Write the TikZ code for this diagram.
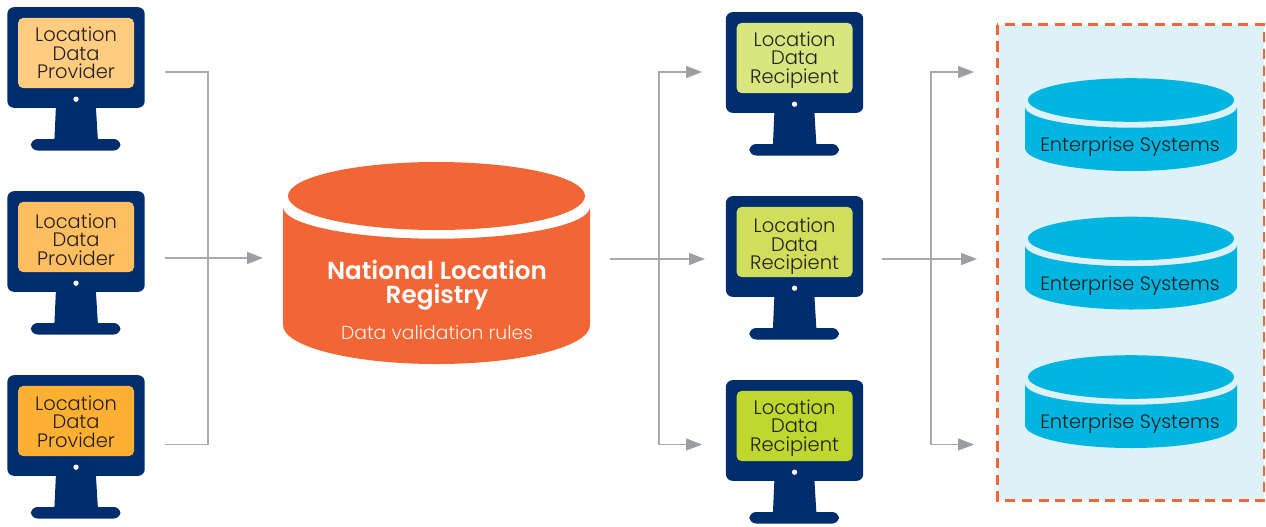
\documentclass[tikz,border=0pt]{standalone}
\usepackage{fontspec}
\setmainfont{Poppins}
\newfontfamily\lightfont{Poppins Light}
\newfontfamily\boldfont{Poppins SemiBold}
\usetikzlibrary{arrows.meta}
\definecolor{navy}{HTML}{002D6E}
\definecolor{regorange}{HTML}{F26535}
\definecolor{entcyan}{HTML}{00B5E0}
\definecolor{panelblue}{HTML}{DDF1F8}
\definecolor{conngray}{HTML}{A9AAAD}
\definecolor{tipgray}{HTML}{9D9EA1}
\definecolor{inkdark}{HTML}{231F20}
\definecolor{provA}{HTML}{FFCC80}
\definecolor{provB}{HTML}{FFBF60}
\definecolor{provC}{HTML}{FFB032}
\definecolor{recA}{HTML}{D9E57F}
\definecolor{recB}{HTML}{CFDF5B}
\definecolor{recC}{HTML}{C0D72E}
\tikzset{
  px/.style={x=0.75pt,y=-0.75pt},
  conn/.style={draw=conngray,line width=1.1pt,line join=miter},
  connarrow/.style={conn,-{Triangle[length=12pt,width=9pt,color=tipgray]}},
  monbody/.style={fill=navy,draw=none,rounded corners=5pt,inner sep=0pt,minimum width=103pt,minimum height=75.5pt},
  monscreen/.style={draw=none,rounded corners=4pt,inner sep=0pt,minimum width=87pt,minimum height=52.8pt},
  montext/.style={font=\lightfont\fontsize{14.6pt}{13.9pt}\selectfont,text=inkdark,align=center,inner sep=0pt},
  enttext/.style={font=\lightfont\fontsize{14.5pt}{16pt}\selectfont,text=inkdark,inner sep=0pt},
}
% name, left x, top y, screen colour, text centre y (relative to top), label
\newcommand{\monitor}[6]{%
  \begin{scope}[shift={(#2,#3)}]
    \fill[navy] (48.5,100) -- (88.5,100) -- (90.5,133) -- (47,133) -- cycle;
    \fill[navy,rounded corners=5pt] (23.5,132) rectangle (113,143.5);
    \node[monbody] (#1) at (68.65,50.5) {};
    \node[monscreen,fill=#4] (#1screen) at (68.65,46) {};
    \fill[white] (68.65,92.2) circle[radius=2pt];
    \node[montext] (#1label) at (68.65,#5) {#6};
  \end{scope}}
\newcommand{\cyl}[9]{%
  \fill[#9] (#1-#4,#6) arc[start angle=180,end angle=360,x radius={#4*0.75pt},y radius={#7*0.75pt}]
    -- (#1+#4,#8) arc[start angle=360,end angle=180,x radius={#4*0.75pt},y radius={\cylr*0.75pt}] -- cycle;
  \fill[#9] (#1,#2) ellipse[x radius={#3*0.75pt},y radius={\cyls*0.75pt}];}
\begin{document}
\begin{tikzpicture}[px]
\useasboundingbox (0,0) rectangle (1266,526);
% enterprise panel
\node[fill=panelblue,draw=none,minimum width=199.5pt,minimum height=356.25pt,inner sep=0pt] (panel) at (1130.75,262.5) {};
\draw[regorange,line width=2pt,dash pattern=on 7.6pt off 4.9pt] (panel.north west) rectangle (panel.south east);
% monitors
\monitor{provA}{7.4}{7}{provA}{46}{Location\\Data\\Provider}
\monitor{provB}{7.4}{191}{provB}{48.5}{Location\\Data\\Provider}
\monitor{provC}{7.4}{375}{provC}{46.5}{Location\\Data\\Provider}
\monitor{recA}{725.9}{12}{recA}{48}{Location\\Data\\Recipient}
\monitor{recB}{725.9}{196}{recB}{50.5}{Location\\Data\\Recipient}
\monitor{recC}{725.9}{380}{recC}{48}{Location\\Data\\Recipient}
% registry
\def\cylr{39}\def\cyls{34}
\cyl{436.5}{196}{148.5}{153.5}{0}{207}{31.7}{325}{regorange}
\node[font=\boldfont\fontsize{18.5pt}{18.2pt}\selectfont,text=white,align=center,inner sep=0pt] (registry) at (437,285) {National Location\\Registry};
\node[font=\lightfont\fontsize{14.1pt}{16pt}\selectfont,text=white!90!regorange,inner sep=0pt] (rules) at (437,333) {Data validation rules};
% enterprise systems
\def\cylr{23}\def\cyls{21.8}
\cyl{1131}{100}{103}{106}{0}{106.7}{21}{148}{entcyan}
\cyl{1131}{238.5}{103}{106}{0}{245.2}{21}{286.5}{entcyan}
\cyl{1131}{377}{103}{106}{0}{383.7}{21}{425}{entcyan}
\node[enttext] (entA) at (1130,147) {Enterprise Systems};
\node[enttext] (entB) at (1130,285.5) {Enterprise Systems};
\node[enttext] (entC) at (1130,423.5) {Enterprise Systems};
% connector ends
\coordinate (pAout) at (165,72);
\coordinate (pBout) at (165,258);
\coordinate (pCout) at (165,444.5);
\coordinate (regin) at (263,258);
\coordinate (regout) at (610,259);
\coordinate (rAin) at (702,72);
\coordinate (rBin) at (705,259);
\coordinate (rCin) at (702,444.5);
\coordinate (rout) at (882,259);
\coordinate (eAin) at (974,72);
\coordinate (eBin) at (977,259);
\coordinate (eCin) at (974,444.5);
% connectors
\draw[conn] (pAout) -- (208,72) -- (208,444.5) -- (pCout);
\draw[connarrow] (pBout) -- (regin);
\draw[connarrow] (regout) -- (rBin);
\draw[connarrow] (659,259) -- (659,72) -- (rAin);
\draw[connarrow] (659,259) -- (659,444.5) -- (rCin);
\draw[connarrow] (rout) -- (eBin);
\draw[connarrow] (931,259) -- (931,72) -- (eAin);
\draw[connarrow] (931,259) -- (931,444.5) -- (eCin);
\end{tikzpicture}
\end{document}
